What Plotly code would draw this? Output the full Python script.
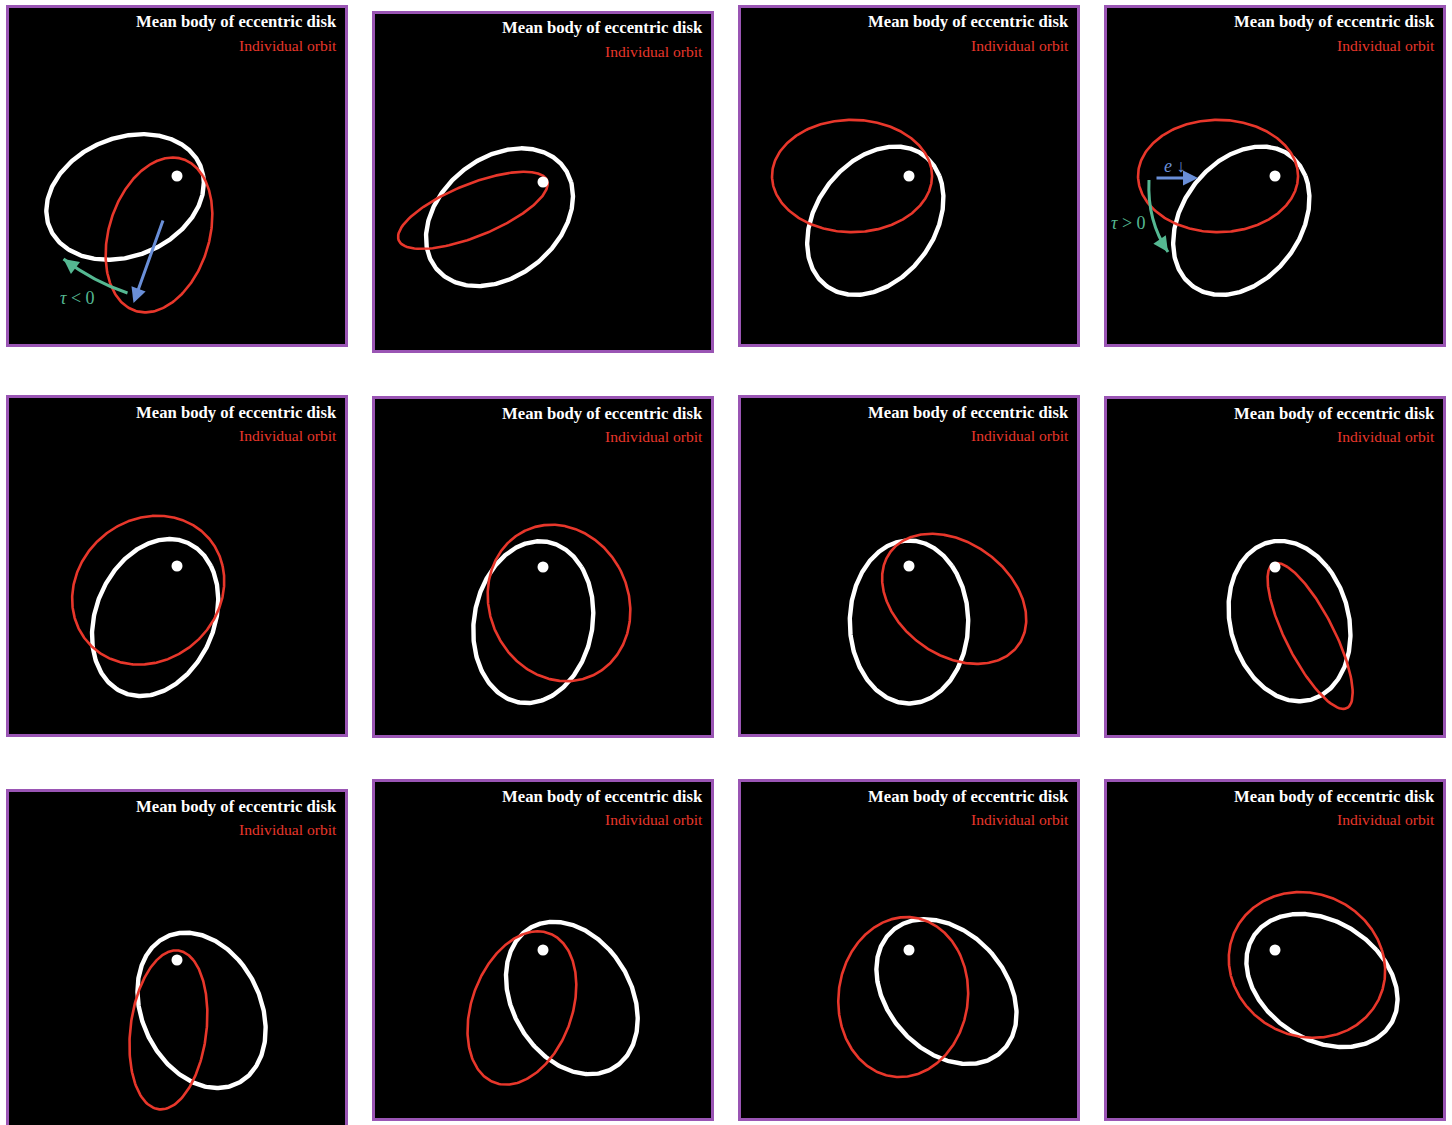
import numpy as np
import plotly.graph_objects as go

# ---------------------------------------------------------------------------
# Orbital elements for each of the 12 snapshots (length unit: 1 = 100 px).
# The central star sits at the focus (0, 0); omega is the direction of
# periapsis in degrees, measured counter-clockwise from +x.
# ---------------------------------------------------------------------------
disk_a = [0.815] * 12
disk_e = [0.687] * 12
disk_omega = [22, 39, 53, 53, 67, 80, 90, 105, 116, 121, 132, 147]

orbit_a = [0.795, 0.800, 0.800, 0.800, 0.798, 0.799, 0.792, 0.810, 0.800, 0.795, 0.802, 0.796]
orbit_e = [0.775, 0.945, 0.712, 0.712, 0.471, 0.493, 0.705, 0.955, 0.880, 0.776, 0.591, 0.443]
orbit_omega = [73, 22, 0, 0, 40, 114, 144, 117, 83, 70, 83, 155]

title_text = "Mean body of eccentric disk"
subtitle_text = "Individual orbit"

# ---------------------------------------------------------------------------
# Page layout: top-left corner of each framed panel (pixels)
# ---------------------------------------------------------------------------
W, H = 1452, 1125
PANEL = 342
BORDER = 3
PX_PER_UNIT = 100.0
panel_origin = [
    (6, 5), (372, 11), (738, 5), (1104, 5),
    (6, 395), (372, 396), (738, 395), (1104, 396),
    (6, 789), (372, 779), (738, 779), (1104, 779),
]

WHITE = "#ffffff"
RED = "#e8372b"
FRAME = "#9a55b4"
TEAL = "#55b892"
BLUE = "#6a8fd8"
SERIF = "Liberation Serif, Times New Roman, serif"


def kepler_curve(a, e, omega_deg, n=600):
    th = np.linspace(0, 2 * np.pi, n)
    om = np.deg2rad(omega_deg)
    r = a * (1 - e ** 2) / (1 + e * np.cos(th - om))
    return r * np.cos(th), r * np.sin(th)


def px_x(px):
    return px / W


def px_y(py):
    return 1 - py / H


fig = go.Figure()
shapes = []
annotations = []
layout_axes = {}

for i, (x0, y0) in enumerate(panel_origin):
    k = i + 1
    suffix = "" if k == 1 else str(k)
    xname, yname = "x" + suffix, "y" + suffix

    cx, cy = x0 + PANEL / 2, y0 + PANEL / 2
    xi0, xi1 = x0 + BORDER, x0 + PANEL - BORDER
    yi0, yi1 = y0 + BORDER, min(y0 + PANEL - BORDER, H)

    layout_axes["xaxis" + suffix] = dict(
        domain=[px_x(xi0), px_x(xi1)],
        range=[(xi0 - cx) / PX_PER_UNIT, (xi1 - cx) / PX_PER_UNIT],
        visible=False, fixedrange=True, anchor=yname,
    )
    layout_axes["yaxis" + suffix] = dict(
        domain=[px_y(yi1), px_y(yi0)],
        range=[(cy - yi1) / PX_PER_UNIT, (cy - yi0) / PX_PER_UNIT],
        visible=False, fixedrange=True, anchor=xname,
    )

    # mean body of the disk
    dx, dy = kepler_curve(disk_a[i], disk_e[i], disk_omega[i])
    fig.add_trace(go.Scatter(x=dx, y=dy, mode="lines", xaxis=xname, yaxis=yname,
                             line=dict(color=WHITE, width=4.4), hoverinfo="skip",
                             showlegend=False))
    # individual orbit
    ox, oy = kepler_curve(orbit_a[i], orbit_e[i], orbit_omega[i])
    fig.add_trace(go.Scatter(x=ox, y=oy, mode="lines", xaxis=xname, yaxis=yname,
                             line=dict(color=RED, width=2.6), hoverinfo="skip",
                             showlegend=False))
    # central star
    fig.add_trace(go.Scatter(x=[0], y=[0], mode="markers", xaxis=xname, yaxis=yname,
                             marker=dict(color=WHITE, size=11), hoverinfo="skip",
                             showlegend=False))

    # panel frame
    shapes.append(dict(type="rect", xref="paper", yref="paper",
                       x0=px_x(x0 + BORDER / 2), x1=px_x(x0 + PANEL - BORDER / 2),
                       y0=px_y(y0 + PANEL - BORDER / 2), y1=px_y(y0 + BORDER / 2),
                       line=dict(color=FRAME, width=BORDER), layer="above"))

    # legend-like labels, top right
    annotations.append(dict(text="<b>" + title_text + "</b>", xref="paper", yref="paper",
                            x=px_x(x0 + PANEL - 9), y=px_y(y0 + 17),
                            xanchor="right", yanchor="middle", showarrow=False,
                            font=dict(family=SERIF, size=16.7, color=WHITE)))
    annotations.append(dict(text=subtitle_text, xref="paper", yref="paper",
                            x=px_x(x0 + PANEL - 9), y=px_y(y0 + 40),
                            xanchor="right", yanchor="middle", showarrow=False,
                            font=dict(family=SERIF, size=15.6, color=RED)))


def curved_arrow(xref, yref, start, ctrl, tip, color):
    shapes.append(dict(type="path", xref=xref, yref=yref,
                       path=f"M {start[0]},{start[1]} Q {ctrl[0]},{ctrl[1]} {tip[0]},{tip[1]}",
                       line=dict(color=color, width=3)))
    tx, ty = tip[0] - ctrl[0], tip[1] - ctrl[1]
    n = np.hypot(tx, ty)
    back = (tip[0] - 0.12 * tx / n, tip[1] - 0.12 * ty / n)
    annotations.append(dict(x=tip[0], y=tip[1], ax=back[0], ay=back[1],
                            xref=xref, yref=yref, axref=xref, ayref=yref,
                            text="", showarrow=True, arrowhead=2, arrowsize=1,
                            arrowwidth=3, arrowcolor=color))


def straight_arrow(xref, yref, tail, tip, color):
    annotations.append(dict(x=tip[0], y=tip[1], ax=tail[0], ay=tail[1],
                            xref=xref, yref=yref, axref=xref, ayref=yref,
                            text="", showarrow=True, arrowhead=2, arrowsize=1,
                            arrowwidth=3, arrowcolor=color))


# Panel 1: eccentricity vector swinging back, negative torque
straight_arrow("x", "y", (-0.135, -0.43), (-0.435, -1.27), BLUE)
curved_arrow("x", "y", (-0.495, -1.17), (-0.83, -1.06), (-1.135, -0.83), TEAL)
annotations.append(dict(text="<i>τ</i> < 0", x=-0.995, y=-1.22, xref="x", yref="y",
                        showarrow=False, font=dict(family=SERIF, size=18, color=TEAL)))

# Panel 4: eccentricity decreasing, positive torque
straight_arrow("x4", "y4", (-1.20, -0.02), (-0.77, -0.02), BLUE)
annotations.append(dict(text="<i>e</i> ↓", x=-1.00, y=0.10, xref="x4", yref="y4",
                        showarrow=False, font=dict(family=SERIF, size=18, color=BLUE)))
curved_arrow("x4", "y4", (-1.26, -0.04), (-1.28, -0.45), (-1.07, -0.76), TEAL)
annotations.append(dict(text="<i>τ</i> > 0", x=-1.47, y=-0.47, xref="x4", yref="y4",
                        showarrow=False, font=dict(family=SERIF, size=18, color=TEAL)))

fig.update_layout(
    width=W, height=H, autosize=False,
    margin=dict(l=0, r=0, t=0, b=0, pad=0),
    paper_bgcolor="white", plot_bgcolor="black",
    shapes=shapes, annotations=annotations,
    **layout_axes,
)

fig.write_html("out.html")
